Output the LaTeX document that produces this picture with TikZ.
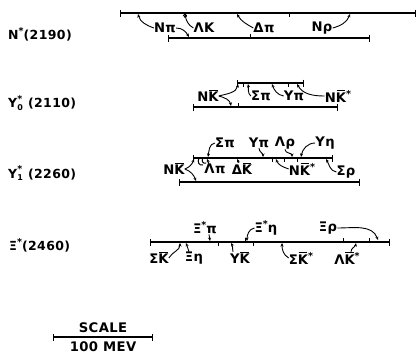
\documentclass[tikz,border=0pt]{standalone}
\usepackage{fontspec}
\setmainfont{DejaVu Sans}[LetterSpace=3]
\usetikzlibrary{arrows.meta}
\newcommand\Kb{\setbox0\hbox{K}\rlap{\kern0.06em\rule[\dimexpr\ht0+1.3pt\relax]{\dimexpr\wd0-0.14em\relax}{1pt}}K}
\newcommand\st{\raisebox{0.38em}{\fontsize{9.5}{9.5}\selectfont *}}
\newcommand\YY[1]{\ensuremath{\mbox{Y}^{\mbox{\fontsize{9.5}{9.5}\selectfont *}}_{\mbox{\fontsize{8}{8}\selectfont #1}}}}
\begin{document}
\begin{tikzpicture}[x=1pt,y=1pt,
  lab/.style={inner sep=0pt,font=\fontsize{13.2}{15}\selectfont\bfseries},
  side/.style={inner sep=0pt,anchor=west,font=\fontsize{12.5}{14}\selectfont\bfseries},
  lvl/.style={line width=1.2pt,{Bar[width=7pt,line width=1.2pt]}-{Bar[width=7pt,line width=1.2pt]}},
  arr/.style={line width=0.9pt,-{Stealth[length=3.5pt,width=3pt]}},
  tk/.style={line width=1pt}]
\useasboundingbox (0,0) rectangle (420,-362);

% ---------- N*(2190)
\node[side] (nstar) at (8,-34) {N\st(2190)};
\coordinate (n1a) at (120,-13); \coordinate (n1b) at (416,-13);
\coordinate (n2a) at (168,-38); \coordinate (n2b) at (370,-38);
\draw[lvl] (n1a) -- (n1b);
\draw[lvl] (n2a) -- (n2b);
\draw[tk] (289,-13) -- (289,-17);
\draw[tk] (250,-38) -- (250,-34);
\node[lab] (npi) at (165,-28) {Nπ};
\node[lab] (lk) at (204,-28) {ΛK};
\node[lab] (dpi) at (264,-28) {Δπ};
\node[lab] (nrho) at (322,-28) {Nρ};
\coordinate (c1) at (138,-14);
\coordinate (c2) at (189,-37);
\coordinate (c3) at (185,-14);
\coordinate (c4) at (237,-14);
\coordinate (c5) at (350,-14);
\draw[arr] (npi.west) to[out=160,in=-75] (c1);
\draw[arr] (npi.east) to[out=0,in=120] (c2);
\draw[arr] (lk.west) to[out=150,in=-80] (c3);
\draw[tk] (185,-15.5) circle (1.5);
\draw[arr] (dpi.west) to[out=150,in=-60] (c4);
\draw[arr] (nrho.east) to[out=15,in=-110] (c5);

% ---------- Y0*(2110)
\node[side] (y0) at (8,-103) {\YY{0} (2110)};
\coordinate (y0a) at (237,-83); \coordinate (y0b) at (304,-83);
\coordinate (y0c) at (193,-107); \coordinate (y0d) at (338,-107);
\draw[lvl] (y0a) -- (y0b);
\draw[lvl] (y0c) -- (y0d);
\draw[tk] (238,-107) -- (238,-103);
\draw[tk] (243,-83) -- (243,-87);
\draw[tk] (288,-83) -- (288,-87);
\node[lab] (nk0) at (208,-96) {N\Kb};
\node[lab] (spi0) at (261,-96) {Σπ};
\node[lab] (ypi0) at (294,-96) {Yπ};
\node[lab] (nks0) at (338,-96) {N\Kb\st};
\coordinate (d1) at (238,-84);
\coordinate (d2) at (231,-106);
\coordinate (d3) at (248,-84);
\coordinate (d4) at (272,-84);
\coordinate (d5) at (297,-84);
\draw[arr] (nk0.east) to[out=15,in=-100] (d1);
\draw[arr] (nk0.east) to[out=-15,in=100] (d2);
\draw[arr] (spi0.west) to[out=140,in=-80] (d3);
\draw[arr] (ypi0.west) to[out=170,in=-70] (d4);
\draw[arr] (nks0.west) to[out=180,in=-60] (d5);

% ---------- Y1*(2260)
\node[side] (y1) at (8,-173) {\YY{1} (2260)};
\coordinate (y1a) at (193,-158); \coordinate (y1b) at (333,-158);
\coordinate (y1c) at (179,-182); \coordinate (y1d) at (360,-182);
\draw[lvl] (y1a) -- (y1b);
\draw[lvl] (y1c) -- (y1d);
\draw[tk] (272,-158) -- (272,-162);
\draw[tk] (284,-158) -- (284,-162);
\draw[tk] (297,-158) -- (297,-162);
\node[lab] (spi1) at (225,-143) {Σπ};
\node[lab] (ypi1) at (259,-143) {Yπ};
\node[lab] (lrho) at (285,-143) {Λρ};
\node[lab] (yeta) at (325,-143) {Yη};
\node[lab] (nk1) at (174,-169) {N\Kb};
\node[lab] (lpi) at (215,-169) {Λπ};
\node[lab] (dk) at (242,-169) {Δ\Kb};
\node[lab] (nks1) at (302,-169) {N\Kb\st};
\node[lab] (srho) at (346,-172) {Σρ};
\coordinate (e1) at (208,-157);
\coordinate (e2) at (263,-157);
\coordinate (e3) at (292,-157);
\coordinate (e4) at (301,-157);
\coordinate (e5) at (194,-159);
\coordinate (e6) at (196,-181);
\coordinate (e7) at (207,-159);
\coordinate (e8) at (237,-159);
\coordinate (e9) at (276,-159);
\coordinate (e10) at (326,-159);
\draw[arr] (spi1.west) to[out=190,in=80] (e1);
\draw[arr] (ypi1.south) to[out=-90,in=90] (e2);
\draw[arr] (lrho.south) to[out=-90,in=90] (e3);
\draw[arr] (yeta.west) to[out=180,in=80] (e4);
\draw[arr] (nk1.east) to[out=20,in=-110] (e5);
\draw[arr] (nk1.east) to[out=-20,in=110] (e6);
\draw[tk] (199,-158) .. controls (197,-162) and (199,-166) .. (203,-165);
\draw[tk] (203,-158) .. controls (201,-161) and (203,-164) .. (206,-163);
\draw[arr] ([xshift=-6pt]lpi.north) -- (e7);
\draw[arr] ([xshift=-3pt]dk.north) -- (e8);
\draw[arr] (nks1.west) to[out=160,in=-70] (e9);
\draw[arr] (srho.west) to[out=170,in=-60] (e10);

% ---------- Xi*(2460)
\node[side] (xi) at (9,-245) {Ξ\st(2460)};
\coordinate (x1a) at (150,-242); \coordinate (x1b) at (390,-242);
\draw[lvl] (x1a) -- (x1b);
\draw[tk] (218,-242) -- (218,-246);
\draw[tk] (253,-242) -- (253,-246);
\draw[tk] (245,-242) -- (245,-238);
\draw[tk] (343,-242) -- (343,-238);
\draw[tk] (369,-242) -- (369,-238);
\node[lab] (xspi) at (205,-228) {Ξ\st π};
\node[lab] (xseta) at (266,-228) {Ξ\st η};
\node[lab] (xrho) at (328,-228) {Ξρ};
\node[lab] (sk) at (159,-258) {Σ\Kb};
\node[lab] (xeta) at (194,-258) {Ξη};
\node[lab] (yk) at (240,-258) {Y\Kb};
\node[lab] (sks) at (301,-258) {Σ\Kb\st};
\node[lab] (lks) at (347,-258) {Λ\Kb\st};
\coordinate (f1) at (210,-241);
\coordinate (f2) at (247,-241);
\coordinate (f3) at (378,-240);
\coordinate (f4) at (180,-243);
\coordinate (f5) at (186,-243);
\coordinate (f6) at (231,-243);
\coordinate (f7) at (282,-243);
\coordinate (f8) at (356,-243);
\draw[arr] ([xshift=4pt]xspi.south) -- (f1);
\draw[arr] (xseta.west) to[out=190,in=90] (f2);
\draw[arr] (xrho.east) to[out=0,in=110] (f3);
\draw[arr] (sk.east) to[out=60,in=-90] (f4);
\draw[arr] ([xshift=-5pt]xeta.north) to[out=110,in=-70] (f5);
\draw[arr] ([xshift=-7pt]yk.north) to[out=100,in=-60] (f6);
\draw[arr] (sks.west) to[out=150,in=-90] (f7);
\draw[arr] ([xshift=4pt]lks.north) to[out=90,in=-100] (f8);

% ---------- scale
\node[lab] (scale) at (103,-328) {SCALE};
\coordinate (s1) at (53,-337); \coordinate (s2) at (153,-337);
\draw[lvl] (s1) -- (s2);
\node[lab] (mev) at (103,-347) {100 MEV};
\end{tikzpicture}
\end{document}
